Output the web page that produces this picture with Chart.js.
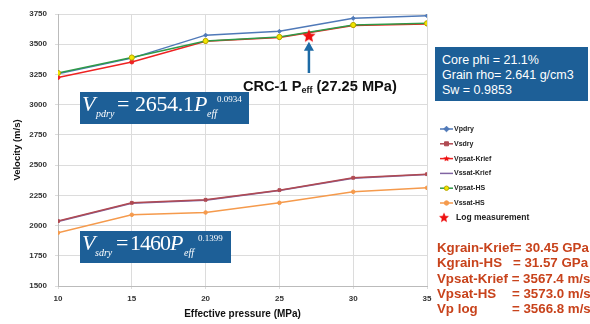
<!DOCTYPE html>
<html>
<head>
<meta charset="utf-8">
<script src="https://cdn.jsdelivr.net/npm/chart.js@4.4.1/dist/chart.umd.min.js"></script>
<style>
body { margin: 0; background: #fff; }
#wrap { position: relative; width: 590px; height: 324px; overflow: hidden; font-family: "Liberation Sans", Arial, sans-serif; }
canvas { position: absolute; left: 0; top: 0; }
.box { position: absolute; background: #1d5f97; color: #fff; }
.eq { font-family: "Liberation Serif", "Times New Roman", serif; font-style: italic; white-space: nowrap; }
.eq span { position: absolute; line-height: 1; }
.eq .big { font-size: 22px; top: 1px; }
.eq .n { font-style: normal; }
.eq .sub { font-size: 10px; top: 17px; }
.eq .sup { font-size: 9px; top: 3px; font-style: normal; }
#info { left: 435px; top: 47px; width: 153px; height: 54px; font-size: 12.5px; line-height: 15px; padding: 6px 0 0 7px; box-sizing: border-box; }
#crc { position: absolute; left: 243px; top: 78px; font-weight: bold; font-size: 14.6px; color: #111; white-space: nowrap; }
#crc sub { font-size: 9px; vertical-align: -2px; }
#res { position: absolute; left: 437px; top: 240px; font-weight: bold; font-size: 13.3px; color: #c8431c; white-space: nowrap; }
#res div { position: relative; height: 15.3px; line-height: 15.3px; }
#res span { position: absolute; top: 0; }
</style>
</head>
<body>
<div id="wrap">
  <canvas id="chart" width="590" height="324"></canvas>
  <div class="box eq" style="left:80px;top:92px;width:169px;height:32px;">
    <span class="big" style="left:2px">V</span>
    <span class="sub" style="left:16px">pdry</span>
    <span class="big n" style="left:37px">=</span>
    <span class="big n" style="left:55px;letter-spacing:-0.3px">2654.1</span>
    <span class="big" style="left:114px">P</span>
    <span class="sub" style="left:127px">eff</span>
    <span class="sup" style="left:137px">0.0934</span>
  </div>
  <div class="box eq" style="left:80px;top:231px;width:151px;height:32px;">
    <span class="big" style="left:2px">V</span>
    <span class="sub" style="left:15px">sdry</span>
    <span class="big n" style="left:36px">=</span>
    <span class="big n" style="left:50px;letter-spacing:-1px">1460</span>
    <span class="big" style="left:90px">P</span>
    <span class="sub" style="left:104px">eff</span>
    <span class="sup" style="left:118px">0.1399</span>
  </div>
  <div class="box" id="info">Core phi = 21.1%<br>Grain rho= 2.641 g/cm3<br>Sw = 0.9853</div>
  <div id="crc">CRC-1 P<sub>eff</sub> (27.25 MPa)</div>
  <div id="res">
    <div><span style="left:0">Kgrain-Krief= 30.45 GPa</span></div>
    <div><span style="left:0">Kgrain-HS</span><span style="left:76px">= 31.57 GPa</span></div>
    <div><span style="left:0">Vpsat-Krief = 3567.4 m/s</span></div>
    <div><span style="left:0">Vpsat-HS</span><span style="left:75px">= 3573.0 m/s</span></div>
    <div><span style="left:0">Vp log</span><span style="left:75px">= 3566.8 m/s</span></div>
  </div>
</div>
<script>
// valores
const presion = [10, 15, 20, 25, 30, 35];
const vpdry = [3255, 3385, 3575, 3607, 3714, 3736];
const vsdry = [2037, 2188, 2213, 2293, 2395, 2425];
const vpsatKrief = [3225, 3353, 3525, 3555, 3655, 3668];
const vssatKrief = [2033, 2185, 2210, 2290, 2392, 2422];
const vpsatHS = [3262, 3390, 3527, 3560, 3659, 3673];
const vssatHS = [1940, 2089, 2108, 2188, 2279, 2312];
const logPresion = [27];
const logVel = [3566.8];
const yTicks = [1500, 1750, 2000, 2250, 2500, 2750, 3000, 3250, 3500, 3750];

const nombres = ["Vpdry", "Vsdry", "Vpsat-Krief", "Vssat-Krief", "Vpsat-HS", "Vssat-HS", "Log measurement"];

// estrella rellena para el punto medido
function crearEstrella(r, color) {
    const c = document.createElement("canvas");
    c.width = c.height = r * 2 + 2;
    const g = c.getContext("2d");
    g.beginPath();
    for (let i = 0; i < 10; i++) {
        const rad = i % 2 === 0 ? r : r * 0.45;
        const a = -Math.PI / 2 + i * Math.PI / 5;
        g.lineTo(r + 1 + rad * Math.cos(a), r + 1 + rad * Math.sin(a));
    }
    g.closePath();
    g.fillStyle = color;
    g.fill();
    return c;
}
const estrella = crearEstrella(7, "#ee1111");
const estrellaChica = crearEstrella(5, "#ee1111");

const pares = (xs, ys) => xs.map((x, i) => ({ x: x, y: ys[i] }));

function serie(label, datos, color, estilo, relleno, radio) {
    return {
        label: label,
        data: pares(presion, datos),
        borderColor: color,
        backgroundColor: relleno || color,
        borderWidth: 1.5,
        pointStyle: estilo,
        pointRadius: radio === undefined ? 2 : radio,
        pointBorderWidth: 1,
        pointBorderColor: relleno ? "#b5a600" : color,
        tension: 0
    };
}

// el primer dataset queda encima
const datasets = [
    {
        label: "Log measurement",
        data: pares(logPresion, logVel),
        showLine: false,
        pointStyle: estrella,
        pointRadius: 7
    },
    serie("Vpsat-HS", vpsatHS, "#2f9a48", "circle", "#f2e600", 2.6),
    serie("Vpdry", vpdry, "#4f79b8", "rectRot", null, 2),
    serie("Vpsat-Krief", vpsatKrief, "#ee2222", "circle", null, 2),
    serie("Vsdry", vsdry, "#b04a52", "rect", null, 2),
    serie("Vssat-HS", vssatHS, "#f59a4c", "circle", null, 1.8),
    serie("Vssat-Krief", vssatKrief, "#8064a2", false, null, 0)
];

// flecha y leyenda propia
const extras = {
    id: "extras",
    afterDatasetsDraw(chart) {
        const ctx = chart.ctx;
        const x = chart.scales.x, y = chart.scales.y;
        const px = x.getPixelForValue(logPresion[0]);
        const y0 = y.getPixelForValue(3262), y1 = y.getPixelForValue(3520);
        ctx.save();
        ctx.strokeStyle = "#1d6aa5";
        ctx.fillStyle = "#1d6aa5";
        ctx.lineWidth = 2.5;
        ctx.beginPath();
        ctx.moveTo(px, y0);
        ctx.lineTo(px, y1 + 6);
        ctx.stroke();
        ctx.beginPath();
        ctx.moveTo(px, y1);
        ctx.lineTo(px - 5, y1 + 9);
        ctx.lineTo(px + 5, y1 + 9);
        ctx.closePath();
        ctx.fill();

        const colores = ["#4f79b8", "#b04a52", "#ee2222", "#8064a2", "#2f9a48", "#f59a4c"];
        const marcas = ["rectRot", "rect", "star", false, "circle", "circle"];
        ctx.textBaseline = "middle";
        for (let i = 0; i < nombres.length; i++) {
            const ly = 129 + i * 14.8;
            if (i < 6) {
                ctx.strokeStyle = colores[i];
                ctx.lineWidth = 1.5;
                ctx.beginPath();
                ctx.moveTo(440, ly);
                ctx.lineTo(453, ly);
                ctx.stroke();
                if (marcas[i] === "star") {
                    ctx.drawImage(estrellaChica, 446.5 - 4, ly - 4, 8, 8);
                } else if (marcas[i]) {
                    ctx.fillStyle = i === 4 ? "#f2e600" : colores[i];
                    ctx.strokeStyle = i === 4 ? "#b5a600" : colores[i];
                    ctx.lineWidth = 1;
                    ctx.beginPath();
                    if (marcas[i] === "circle") ctx.arc(446.5, ly, 2.2, 0, Math.PI * 2);
                    else if (marcas[i] === "rect") ctx.rect(444.5, ly - 2, 4, 4);
                    else { ctx.moveTo(446.5, ly - 2.8); ctx.lineTo(449.3, ly); ctx.lineTo(446.5, ly + 2.8); ctx.lineTo(443.7, ly); ctx.closePath(); }
                    ctx.fill();
                    ctx.stroke();
                }
                ctx.fillStyle = "#222";
                ctx.font = "bold 7px 'Liberation Sans Narrow', 'Liberation Sans', Arial, sans-serif";
                ctx.fillText(nombres[i], 454, ly);
            } else {
                ctx.drawImage(estrella, 438, ly - 6, 12, 12);
                ctx.fillStyle = "#222";
                ctx.font = "bold 8.5px 'Liberation Sans Narrow', 'Liberation Sans', Arial, sans-serif";
                ctx.fillText(nombres[i], 456, ly);
            }
        }
        ctx.restore();
    }
};

new Chart(document.getElementById("chart"), {
    type: "line",
    data: { datasets: datasets },
    options: {
        responsive: false,
        animation: false,
        layout: { padding: { top: 14, right: 163, left: 0, bottom: 0 } },
        plugins: { legend: { display: false }, tooltip: { enabled: false } },
        scales: {
            x: {
                type: "linear",
                min: 10, max: 35,
                ticks: { stepSize: 5, color: "#333", font: { size: 8, weight: "bold" }, padding: 5 },
                grid: { color: "#dcdcdc", tickLength: 3 },
                border: { color: "#bbb" },
                title: { display: true, text: "Effective pressure (MPa)", color: "#111", font: { size: 10, weight: "bold" }, padding: { top: 3 } },
                afterFit(s) { s.height = 38; }
            },
            y: {
                min: 1500, max: 3750,
                afterBuildTicks(s) { s.ticks = yTicks.map(v => ({ value: v })); },
                ticks: { color: "#333", font: { size: 8, weight: "bold" }, padding: 8, callback: v => String(v) },
                grid: { color: "#dcdcdc", tickLength: 3 },
                border: { color: "#bbb" },
                title: { display: true, text: "Velocity (m/s)", color: "#111", font: { size: 9.5, weight: "bold" }, padding: { top: 12, bottom: 0 } },
                afterFit(s) { s.width = 58; }
            }
        }
    },
    plugins: [extras]
});
</script>
</body>
</html>
